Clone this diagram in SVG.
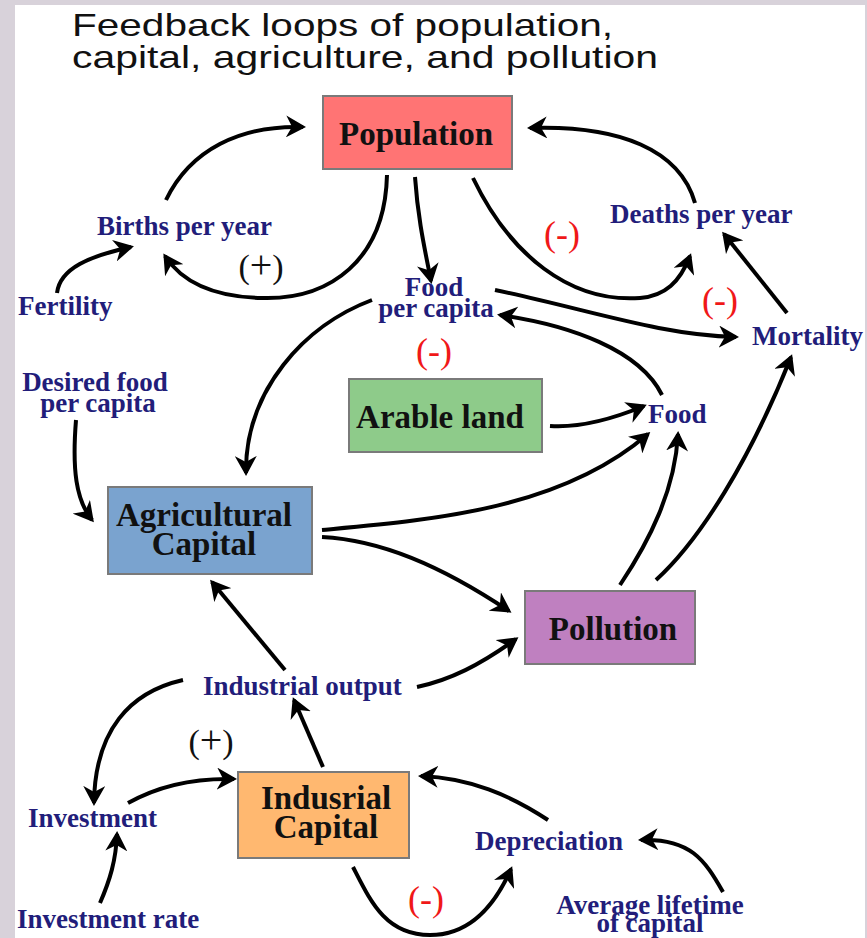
<svg xmlns="http://www.w3.org/2000/svg" width="867" height="938" viewBox="0 0 867 938">
<style>
.title{font-family:"Liberation Sans",Arial,sans-serif;font-size:32px;fill:#111}
.box{stroke:#7a7a7a;stroke-width:2}
.nt{font-family:"Liberation Serif","Times New Roman",serif;font-size:33px;font-weight:bold;fill:#111;text-anchor:middle}
.lb{font-family:"Liberation Serif","Times New Roman",serif;font-size:27px;font-weight:bold;fill:#221d7a}
.lbm{font-family:"Liberation Serif","Times New Roman",serif;font-size:27px;font-weight:bold;fill:#221d7a;text-anchor:middle}
.pos{font-family:"Liberation Serif","Times New Roman",serif;font-size:34px;fill:#111;text-anchor:middle}
.pl{font-size:40px}
.neg{font-family:"Liberation Serif","Times New Roman",serif;font-size:36px;fill:#f01818;text-anchor:middle}
.c{fill:none;stroke:#000;stroke-width:4;marker-end:url(#ah)}
</style>
<defs>
<marker id="ah" viewBox="0 0 20 22" markerWidth="20" markerHeight="22" refX="17" refY="11" orient="auto" markerUnits="userSpaceOnUse">
<path d="M0,0 L20,11 L0,22 L6,11 z" fill="#000"/>
</marker>
</defs>
<rect x="0" y="0" width="867" height="938" fill="#d8d2da"/>
<rect x="15" y="5" width="850" height="933" fill="#ffffff"/>
<g id="title">
<text class="title" x="72" y="36" textLength="541" lengthAdjust="spacingAndGlyphs">Feedback loops of population,</text>
<text class="title" x="72" y="68" textLength="586" lengthAdjust="spacingAndGlyphs">capital, agriculture, and pollution</text>
</g>
<g id="connectors">
<path class="c" d="M166,200 C190,150 240,125 303,127"/>
<path class="c" d="M387,175 C385,260 330,300 262,298 C212,297 182,282 165,256"/>
<path class="c" d="M57,293 C60,268 90,256 131,247"/>
<path class="c" d="M415,177 C418,220 425,250 431,281"/>
<path class="c" d="M473,178 C510,255 570,303 640,298 C665,296 680,282 690,256"/>
<path class="c" d="M695,203 C680,150 620,125 530,128"/>
<path class="c" d="M787,313 L724,234"/>
<path class="c" d="M495,290 C590,310 660,335 736,337"/>
<path class="c" d="M662,395 C640,350 570,325 500,315"/>
<path class="c" d="M372,300 C305,325 245,390 246,473"/>
<path class="c" d="M76,420 C72,470 76,500 92,520"/>
<path class="c" d="M550,426 C580,428 610,420 644,406"/>
<path class="c" d="M322,530 C430,520 560,510 648,434"/>
<path class="c" d="M322,537 C380,540 440,565 509,611"/>
<path class="c" d="M620,585 C650,540 675,490 678,434"/>
<path class="c" d="M656,580 C700,540 750,460 791,357"/>
<path class="c" d="M285,670 C260,640 235,610 212,582"/>
<path class="c" d="M417,687 C450,680 480,665 516,639"/>
<path class="c" d="M183,680 C130,692 95,730 94,803"/>
<path class="c" d="M128,803 C160,785 195,778 234,779"/>
<path class="c" d="M323,767 L294,700"/>
<path class="c" d="M100,903 C110,880 116,860 117,834"/>
<path class="c" d="M548,820 C510,795 470,778 421,776"/>
<path class="c" d="M353,867 C370,900 385,935 430,935 C470,935 495,905 511,869"/>
<path class="c" d="M723,892 C705,860 690,838 641,840"/>
</g>
<g id="population">
<rect class="box" x="323" y="96" width="189" height="73" fill="#ff7474"/>
<text class="nt" x="416" y="145">Population</text>
</g>
<g id="arable-land">
<rect class="box" x="349" y="379" width="193" height="73" fill="#8ecb8a"/>
<text class="nt" x="440" y="428">Arable land</text>
</g>
<g id="agricultural-capital">
<rect class="box" x="108" y="487" width="204" height="87" fill="#7aa3cf"/>
<text class="nt" x="204" y="526">Agricultural</text>
<text class="nt" x="204" y="555">Capital</text>
</g>
<g id="pollution">
<rect class="box" x="525" y="591" width="170" height="73" fill="#bf80c0"/>
<text class="nt" x="613" y="640">Pollution</text>
</g>
<g id="industrial-capital">
<rect class="box" x="238" y="772" width="171" height="86" fill="#ffb870"/>
<text class="nt" x="326" y="809">Indusrial</text>
<text class="nt" x="326" y="838">Capital</text>
</g>
<g id="births-per-year"><text class="lb" x="97" y="235">Births per year</text></g>
<g id="fertility"><text class="lb" x="18" y="315">Fertility</text></g>
<g id="food-per-capita">
<text class="lbm" x="434" y="296">Food</text>
<text class="lbm" x="436" y="317">per capita</text>
</g>
<g id="deaths-per-year"><text class="lb" x="610" y="223">Deaths per year</text></g>
<g id="mortality"><text class="lb" x="752" y="345">Mortality</text></g>
<g id="desired-food">
<text class="lbm" x="95" y="391">Desired food</text>
<text class="lbm" x="98" y="412">per capita</text>
</g>
<g id="food"><text class="lb" x="648" y="423">Food</text></g>
<g id="industrial-output"><text class="lb" x="203" y="695">Industrial output</text></g>
<g id="investment"><text class="lb" x="28" y="827">Investment</text></g>
<g id="investment-rate"><text class="lb" x="17" y="928">Investment rate</text></g>
<g id="depreciation"><text class="lb" x="475" y="850">Depreciation</text></g>
<g id="average-lifetime">
<text class="lbm" x="650" y="914">Average lifetime</text>
<text class="lbm" x="650" y="932">of capital</text>
</g>
<g id="signs">
<text class="pos" x="261" y="278">(<tspan class="pl">+</tspan>)</text>
<text class="pos" x="211" y="753">(<tspan class="pl">+</tspan>)</text>
<text class="neg" x="562" y="246">(-)</text>
<text class="neg" x="720" y="312">(-)</text>
<text class="neg" x="434" y="363">(-)</text>
<text class="neg" x="426" y="911">(-)</text>
</g>
</svg>
